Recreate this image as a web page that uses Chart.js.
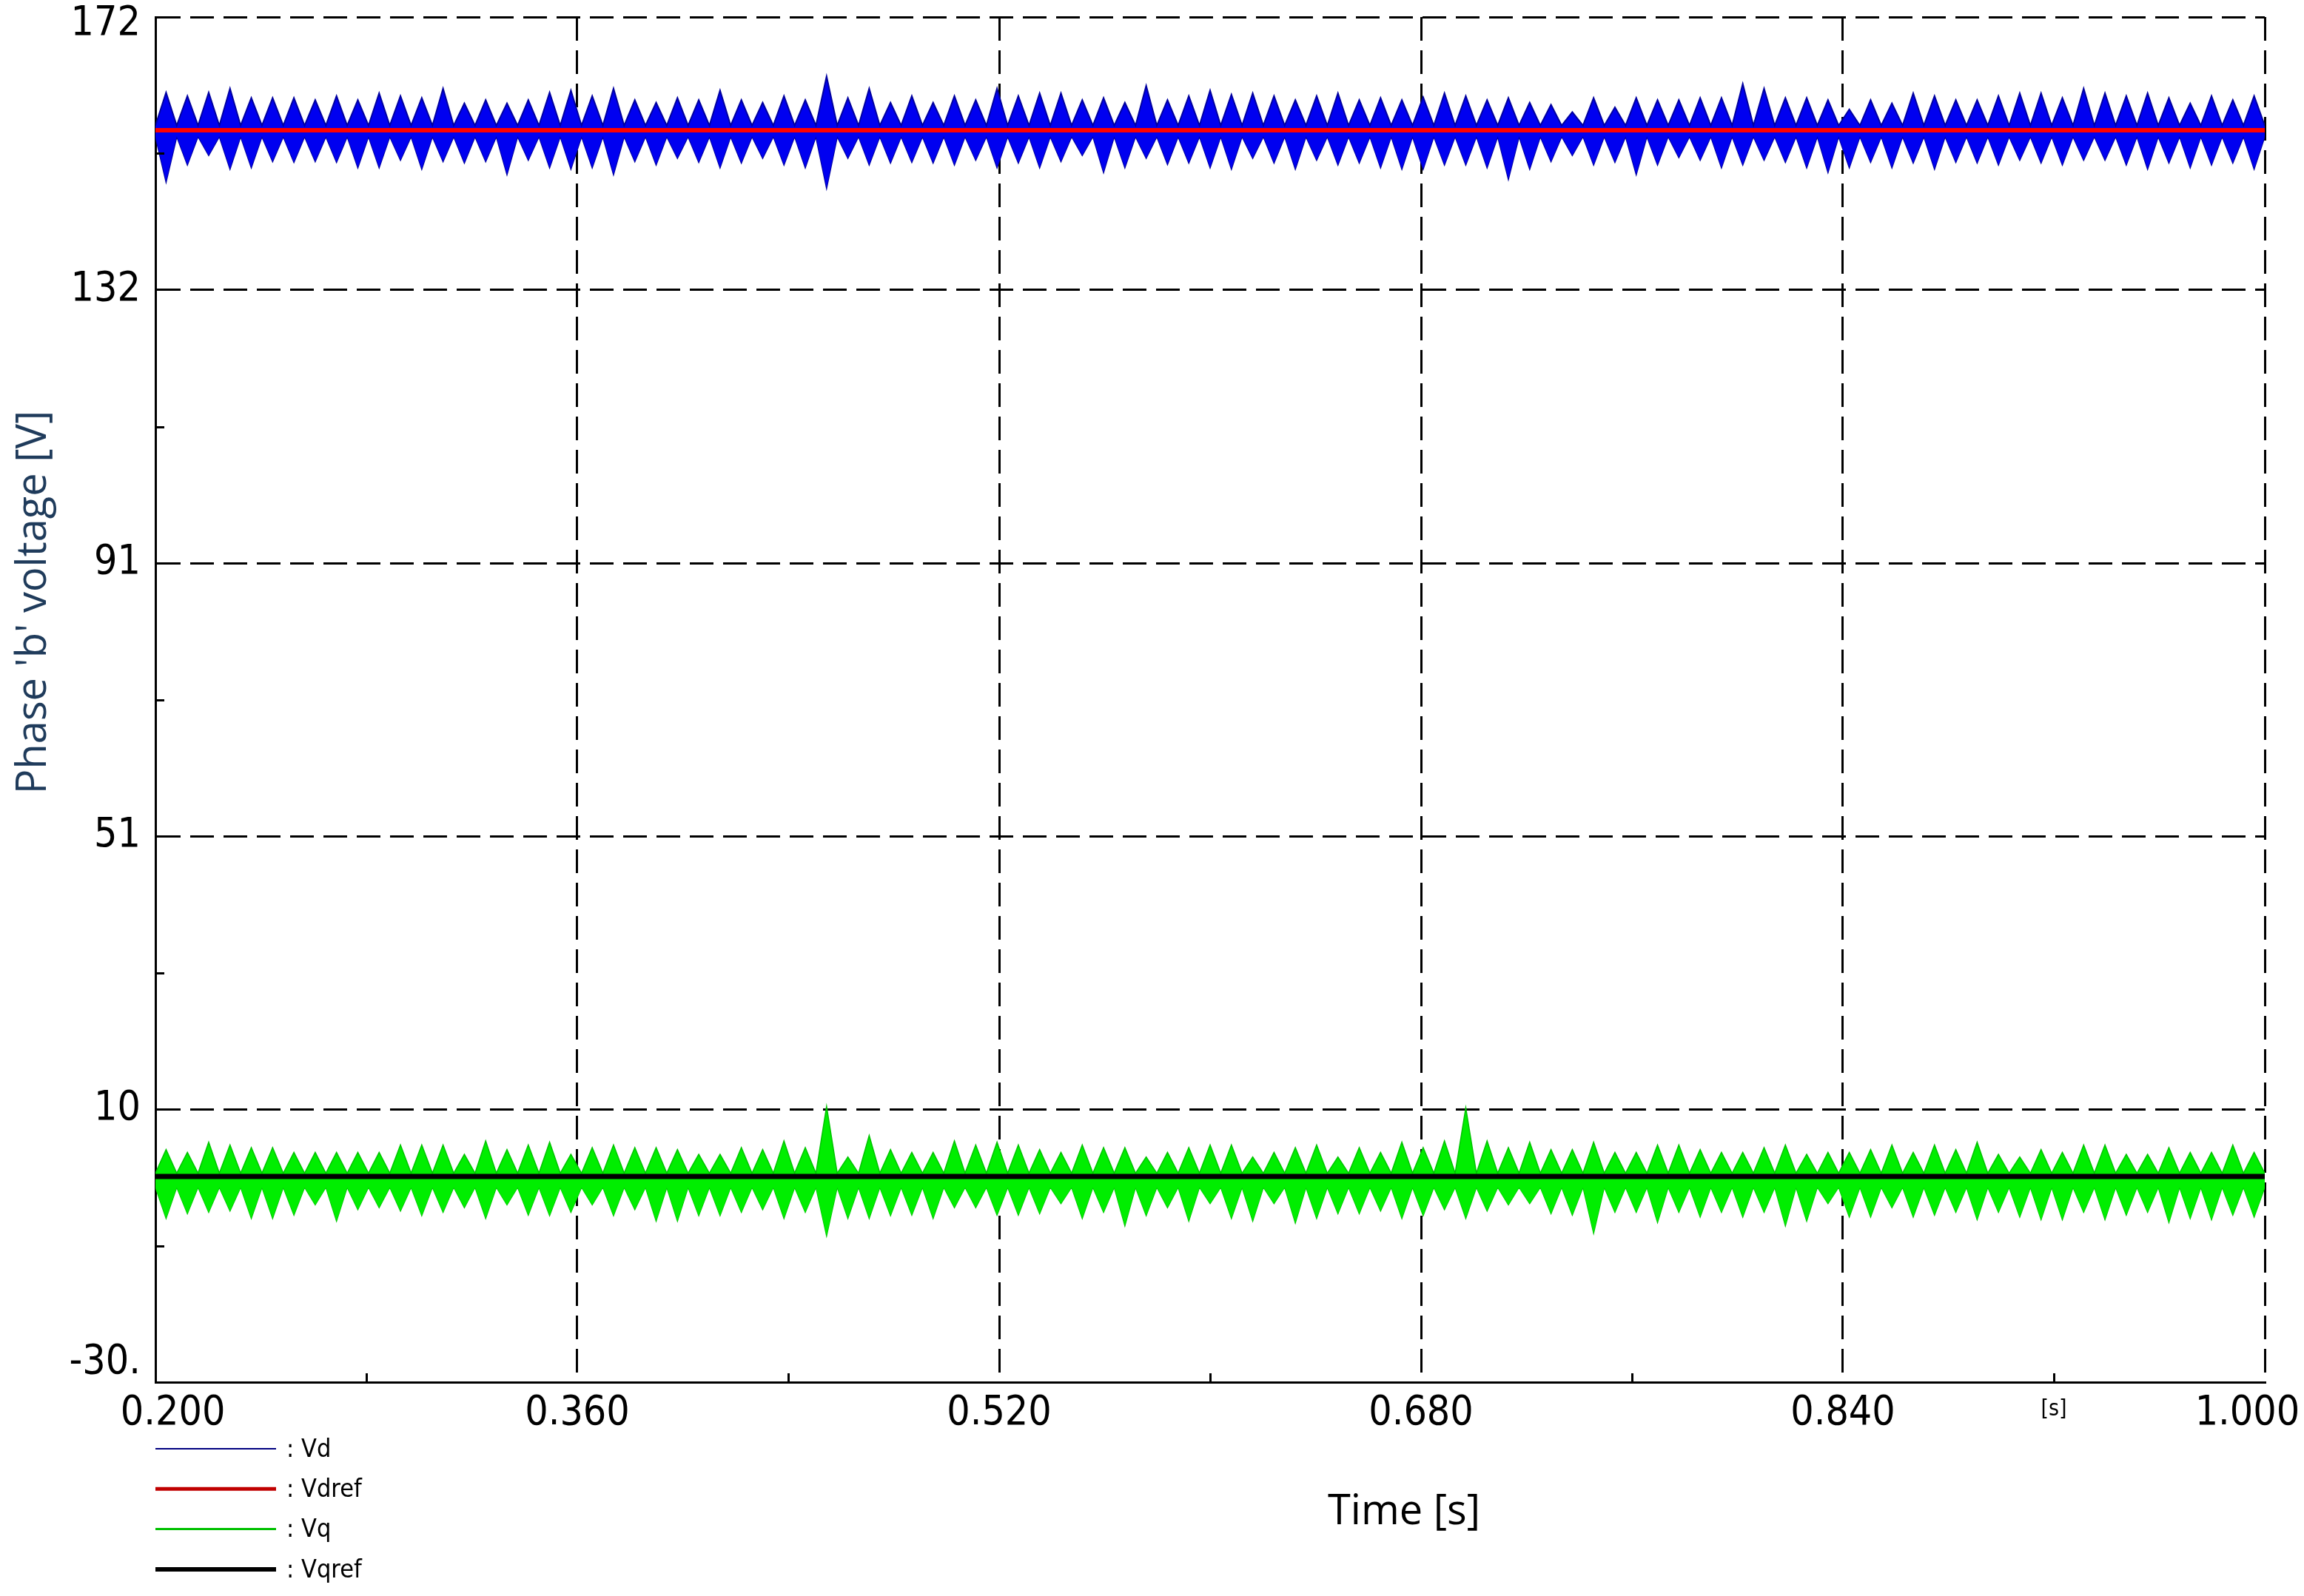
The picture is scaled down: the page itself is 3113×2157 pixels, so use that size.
<!DOCTYPE html>
<html>
<head>
<meta charset="utf-8">
<title>Phase 'b' voltage</title>
<script src="https://cdn.jsdelivr.net/npm/chart.js@4.4.1/dist/chart.umd.min.js"></script>
<style>
  html, body { margin: 0; padding: 0; background: #fff; }
  canvas { display: block; }
</style>
</head>
<body>
<canvas id="voltageChart" width="3113" height="2157"></canvas>
<script>
// time axis [s]
const tStart = 0.2;
const tEnd = 1.0;
const xTickValues = [0.2, 0.36, 0.52, 0.68, 0.84, 0.92, 1.0];
const xTickLabels = ['0.200', '0.360', '0.520', '0.680', '0.840', '[s]', '1.000'];
const xMinorTicks = [0.28, 0.44, 0.6, 0.76, 0.92];

// voltage axis [V]
const yMin = -30.5;
const yMax = 172;
const yTickValues = [-30.5, 10, 50.5, 91, 131.5, 172];
const yTickLabels = ['-30.', '10', '51', '91', '132', '172'];
const yMinorTicks = [-10.25, 30.25, 70.75, 111.25, 151.75];

// references
const vdRef = 155.2;
const vqRef = 0;

// Vd ripple: highest / lowest value reached in each switching burst
const vdHigh = [
  160.8, 160.3, 160.8, 161.4, 160.0, 160.0, 160.0, 159.7, 160.3, 159.7, 160.7, 160.3, 160.0, 161.4, 159.2, 159.7, 159.2,
  159.7, 160.8, 161.1, 160.3, 161.4, 159.7, 159.3, 160.0, 159.7, 161.1, 159.7, 159.3, 160.3, 159.7, 163.2, 160.0,
  161.4, 159.3, 160.3, 159.3, 160.3, 159.7, 161.4, 160.3, 160.7, 160.7, 159.7, 160.0, 159.3, 161.8, 159.7, 160.3, 161.1,
  160.5, 160.7, 160.3, 159.7, 160.3, 160.7, 159.7, 160.0, 159.7, 160.1, 160.7, 160.3, 159.7, 160.0, 159.3, 159.0,
  157.9, 160.0, 158.6, 160.0, 159.7, 159.7, 160.0, 160.0, 162.1, 161.4, 160.0, 160.0, 159.7, 158.3, 159.7, 159.2, 160.7,
  160.3, 159.7, 159.7, 160.3, 160.7, 160.7, 160.0, 161.4, 160.7, 160.3, 160.7, 160.0, 159.2, 160.3, 159.7, 160.3
];
const vdLow = [
  147.6, 150.1, 151.5, 149.5, 149.7, 150.6, 150.5, 150.6, 150.5, 149.7, 149.7, 150.8, 149.5, 150.6, 150.4, 150.6, 148.7,
  150.8, 149.7, 149.5, 149.7, 148.7, 150.6, 150.1, 151.1, 150.5, 149.7, 150.4, 151.1, 150.1, 149.7, 146.7, 151.1,
  150.1, 150.4, 150.5, 150.4, 150.1, 150.8, 149.7, 150.4, 149.7, 150.6, 151.5, 149.0, 149.7, 151.1, 150.2, 150.4, 149.7,
  149.5, 151.1, 150.4, 149.5, 150.8, 150.1, 150.4, 149.7, 149.5, 149.5, 150.1, 150.1, 149.7, 148.0, 149.5, 150.6,
  151.5, 150.1, 150.5, 148.7, 150.1, 151.2, 150.8, 149.7, 150.1, 150.8, 150.5, 149.7, 149.0, 149.7, 150.5, 149.7, 150.4,
  149.5, 150.5, 150.4, 150.1, 150.8, 150.4, 150.1, 150.8, 150.8, 150.1, 149.5, 150.4, 149.7, 150.1, 150.4, 149.5
];
// level the band falls back to between bursts
const vdGapHigh = 155.9;
const vdGapLow = 154.3;

// Vq ripple
const vqHigh = [
  4.0, 3.6, 5.1, 4.7, 4.3, 4.3, 3.6, 3.6, 3.6, 3.6, 3.6, 4.7, 4.7, 4.7, 3.3, 5.3, 4.0,
  4.7, 5.1, 3.3, 4.3, 4.7, 4.3, 4.3, 4.0, 3.3, 3.3, 4.3, 4.0, 5.3, 4.3, 10.4, 2.9,
  6.1, 4.0, 3.6, 3.6, 5.3, 4.7, 5.1, 4.7, 4.0, 3.6, 4.7, 4.3, 4.3, 2.9, 3.6, 4.3, 4.7,
  4.7, 2.9, 3.6, 4.3, 4.7, 2.9, 4.3, 3.6, 5.1, 4.3, 5.3, 10.2, 5.3, 4.3, 5.1, 4.0,
  4.0, 5.1, 3.6, 3.6, 4.7, 4.7, 4.0, 3.6, 3.6, 4.3, 4.7, 3.3, 3.6, 3.6, 4.0, 4.7, 3.6,
  4.7, 4.0, 5.1, 3.3, 2.9, 4.0, 3.6, 4.7, 4.7, 3.3, 3.3, 4.3, 3.6, 3.6, 4.7, 3.6
];
const vqLow = [
  -6.2, -5.5, -5.3, -5.1, -6.2, -6.2, -5.7, -4.2, -6.6, -4.9, -4.6, -5.1, -5.8, -5.3, -4.6, -6.2, -4.2,
  -5.7, -5.8, -5.3, -4.2, -5.8, -4.9, -6.6, -6.6, -5.8, -5.8, -5.3, -4.9, -6.2, -5.3, -8.8, -6.2,
  -6.2, -5.8, -5.7, -6.2, -4.6, -4.6, -5.7, -5.7, -5.5, -4.0, -6.2, -5.3, -7.3, -5.8, -4.6, -6.6, -4.0,
  -6.2, -6.6, -4.0, -6.9, -6.2, -5.5, -5.5, -5.1, -6.2, -5.8, -4.9, -6.2, -5.1, -4.2, -4.0, -5.5,
  -5.7, -8.4, -5.3, -5.3, -6.8, -5.3, -6.0, -5.3, -6.0, -5.3, -7.3, -6.6, -4.0, -6.0, -6.0, -4.6, -6.0,
  -5.7, -5.3, -6.4, -5.3, -6.0, -6.4, -6.4, -5.3, -6.4, -5.7, -5.3, -6.8, -6.2, -6.4, -5.7, -6.0
];
const vqGapHigh = 0.5;
const vqGapLow = -1.6;

const legendOrder = ['Vd', 'Vdref', 'Vq', 'Vqref'];

const tickFont = '"DejaVu Sans Condensed", "DejaVu Sans", sans-serif';
const titleFont = '"Open Sans", "Noto Sans", sans-serif';

// burst peaks alternate with the between-burst level
function envelope(peaks, gap) {
  const step = (tEnd - tStart) / (2 * peaks.length);
  const pts = [];
  peaks.forEach((p, i) => {
    pts.push({ x: tStart + 2 * i * step, y: gap });
    pts.push({ x: tStart + (2 * i + 1) * step, y: p });
  });
  pts.push({ x: tEnd, y: gap });
  return pts;
}

function refLine(v) {
  return [{ x: tStart, y: v }, { x: tEnd, y: v }];
}

const extras = {
  id: 'extras',
  afterDraw(chart) {
    const { ctx, chartArea, scales: { x, y } } = chart;
    ctx.save();

    // short inward minor ticks
    ctx.strokeStyle = '#000';
    ctx.lineWidth = 3;
    ctx.beginPath();
    xMinorTicks.forEach(v => {
      const px = Math.round(x.getPixelForValue(v)) + 0.5;
      ctx.moveTo(px, chartArea.bottom);
      ctx.lineTo(px, chartArea.bottom - 12);
    });
    yMinorTicks.forEach(v => {
      const py = Math.round(y.getPixelForValue(v)) + 0.5;
      ctx.moveTo(chartArea.left, py);
      ctx.lineTo(chartArea.left + 12, py);
    });
    ctx.stroke();

    // axis titles
    ctx.fillStyle = '#000';
    ctx.font = '56px ' + titleFont;
    ctx.textAlign = 'center';
    ctx.textBaseline = 'alphabetic';
    ctx.fillText('Time [s]', 1897, 2060);

    ctx.save();
    ctx.translate(62, 814);
    ctx.rotate(-Math.PI / 2);
    ctx.fillStyle = '#1f3b5b';
    ctx.fillText("Phase 'b' voltage [V]", 0, 0);
    ctx.restore();

    // legend, stacked under the plot
    ctx.font = '34px ' + tickFont;
    ctx.textAlign = 'left';
    ctx.textBaseline = 'middle';
    ctx.fillStyle = '#000';
    legendOrder.forEach((name, i) => {
      const ds = chart.data.datasets.find(d => d.label === name);
      const ly = 1958 + i * 54.3;
      ctx.strokeStyle = ds.legendColor;
      ctx.lineWidth = ds.legendWidth;
      ctx.beginPath();
      ctx.moveTo(210, ly);
      ctx.lineTo(373, ly);
      ctx.stroke();
      ctx.fillText(': ' + ds.label, 387, ly + 2);
    });
    ctx.restore();
  }
};

new Chart(document.getElementById('voltageChart'), {
  type: 'line',
  data: {
    datasets: [
      { label: 'Vdref', data: refLine(vdRef), borderColor: '#ff0000', borderWidth: 6,
        legendColor: '#c00000', legendWidth: 5 },
      { label: 'Vqref', data: refLine(vqRef), borderColor: '#000000', borderWidth: 7,
        legendColor: '#000000', legendWidth: 6 },
      { label: 'Vd', data: envelope(vdHigh, vdGapHigh), borderColor: '#0000a0', backgroundColor: '#0000f0',
        borderWidth: 2, fill: '+1', legendColor: '#000080', legendWidth: 2 },
      { label: 'Vd lower', data: envelope(vdLow, vdGapLow), borderColor: '#0000a0', borderWidth: 2, fill: false },
      { label: 'Vq', data: envelope(vqHigh, vqGapHigh), borderColor: '#00c400', backgroundColor: '#00ee00',
        borderWidth: 1.5, fill: '+1', legendColor: '#00c000', legendWidth: 3 },
      { label: 'Vq lower', data: envelope(vqLow, vqGapLow), borderColor: '#00c400', borderWidth: 1.5, fill: false }
    ]
  },
  options: {
    responsive: false,
    devicePixelRatio: 1,
    animation: false,
    events: [],
    layout: { padding: { top: 23, right: 53, bottom: 0, left: 0 } },
    elements: { point: { radius: 0 }, line: { tension: 0 } },
    plugins: { legend: { display: false }, tooltip: { enabled: false } },
    scales: {
      x: {
        type: 'linear',
        min: tStart,
        max: tEnd,
        afterBuildTicks: s => { s.ticks = xTickValues.map(v => ({ value: v })); },
        afterFit: s => { s.height = 289; s.paddingLeft = 0; s.paddingRight = 0; },
        ticks: {
          autoSkip: false,
          maxRotation: 0,
          minRotation: 0,
          padding: 10,
          color: '#000',
          font: c => xTickLabels[c.index] === '[s]'
            ? { family: tickFont, size: 30, lineHeight: '18px' }
            : { family: tickFont, size: 55 },
          callback: (v, i) => {
            if (i === 0) return '   ' + xTickLabels[i];
            if (i === xTickLabels.length - 1) return xTickLabels[i] + '   ';
            if (xTickLabels[i] === '[s]') return ['', xTickLabels[i]];
            return xTickLabels[i];
          }
        },
        grid: {
          drawTicks: false,
          lineWidth: 3,
          color: c => xTickLabels[c.index] === '[s]' ? 'rgba(0,0,0,0)' : '#000'
        },
        border: { display: true, color: '#000', width: 3, dash: [32, 13] }
      },
      y: {
        type: 'linear',
        min: yMin,
        max: yMax,
        afterBuildTicks: s => { s.ticks = yTickValues.map(v => ({ value: v })); },
        afterFit: s => { s.width = 210; s.paddingTop = 0; s.paddingBottom = 0; },
        ticks: {
          autoSkip: false,
          padding: 20,
          color: '#000',
          font: c => {
            let lh = 1.2;
            if (c.index === 0) lh = '52px';
            if (c.index === yTickValues.length - 1) lh = '20px';
            return { family: tickFont, size: 55, lineHeight: lh };
          },
          callback: (v, i) => {
            if (i === 0) return [yTickLabels[i], ''];
            if (i === yTickLabels.length - 1) return ['', yTickLabels[i]];
            return yTickLabels[i];
          }
        },
        grid: { drawTicks: false, lineWidth: 3, color: '#000' },
        border: { display: true, color: '#000', width: 3, dash: [32, 13] }
      }
    }
  },
  plugins: [extras]
});
</script>
</body>
</html>
